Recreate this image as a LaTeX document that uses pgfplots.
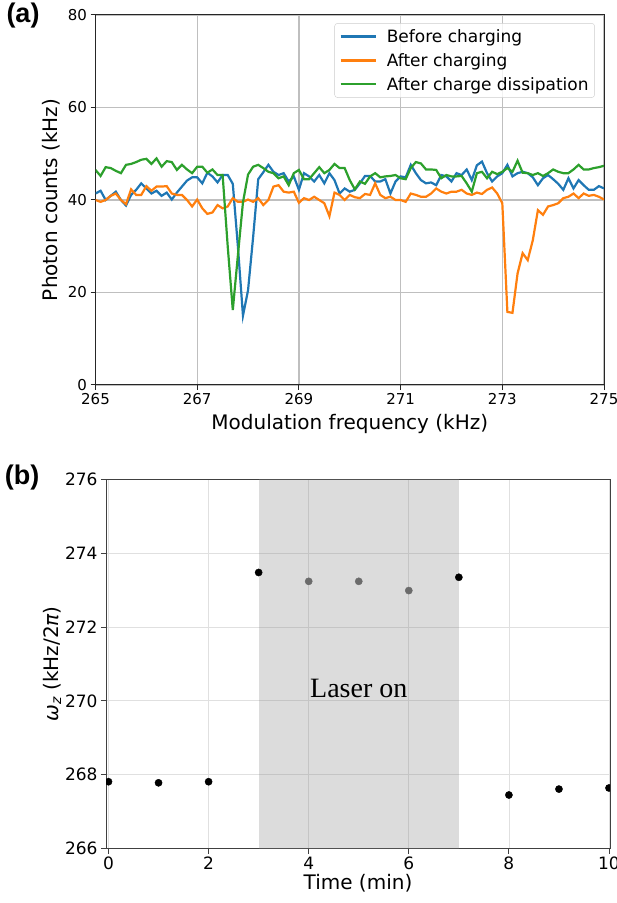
\documentclass[border=0pt]{standalone}
\usepackage{pgfplots}
\usepackage{pgfplotstable}
\pgfplotsset{compat=1.18}
\usepackage{fontspec}
\setmainfont{DejaVu Sans}
\newfontfamily\panelfont{Liberation Sans}
\newfontfamily\seriffont{Liberation Serif}

\definecolor{mplblue}{HTML}{1F77B4}
\definecolor{mplorange}{HTML}{FF7F0E}
\definecolor{mplgreen}{HTML}{2CA02C}

% Photon counts (kHz) versus modulation frequency (kHz)
\pgfplotstableread{
f v
265.0 41.4
265.1 42.0
265.2 40.0
265.3 40.9
265.4 41.8
265.5 40.0
265.6 38.8
265.7 41.1
265.8 42.2
265.9 43.6
266.0 42.5
266.1 41.4
266.2 42.0
266.3 40.9
266.4 41.6
266.5 40.1
266.6 41.6
266.7 42.9
266.8 44.2
266.9 44.9
267.0 44.9
267.1 43.6
267.2 45.9
267.3 45.1
267.4 43.8
267.5 45.4
267.6 45.4
267.7 43.5
267.8 30.0
267.9 15.0
268.0 20.5
268.1 32.0
268.2 44.5
268.3 46.0
268.4 47.6
268.5 46.1
268.6 45.4
268.7 45.8
268.8 44.0
268.9 45.1
269.0 42.2
269.1 45.8
269.2 45.1
269.3 44.0
269.4 45.4
269.5 43.6
269.6 45.8
269.7 44.3
269.8 41.4
269.9 42.5
270.0 41.8
270.1 42.2
270.2 43.6
270.3 45.2
270.4 45.2
270.5 44.0
270.6 44.0
270.7 44.5
270.8 41.4
270.9 44.0
271.0 45.1
271.1 44.9
271.2 47.6
271.3 45.8
271.4 44.3
271.5 43.6
271.6 43.8
271.7 43.2
271.8 45.4
271.9 45.1
272.0 44.0
272.1 45.8
272.2 45.4
272.3 46.6
272.4 44.3
272.5 47.5
272.6 48.3
272.7 45.8
272.8 44.0
272.9 45.1
273.0 45.8
273.1 47.6
273.2 45.1
273.3 45.8
273.4 46.1
273.5 45.8
273.6 44.9
273.7 43.2
273.8 44.7
273.9 45.4
274.0 44.5
274.1 43.5
274.2 42.2
274.3 44.7
274.4 42.5
274.5 44.3
274.6 43.2
274.7 42.2
274.8 42.2
274.9 43.0
275.0 42.5
}\beforecharging

\pgfplotstableread{
f v
265.0 40.0
265.1 39.6
265.2 40.0
265.3 40.9
265.4 41.4
265.5 40.0
265.6 39.1
265.7 42.3
265.8 41.1
265.9 41.1
266.0 43.0
266.1 42.0
266.2 42.9
266.3 42.9
266.4 43.0
266.5 41.4
266.6 41.1
266.7 41.1
266.8 40.0
266.9 38.6
267.0 40.1
267.1 38.2
267.2 37.0
267.3 37.3
267.4 38.9
267.5 38.2
267.6 38.6
267.7 40.4
267.8 39.6
267.9 39.6
268.0 40.1
268.1 39.6
268.2 40.4
268.3 38.9
268.4 40.0
268.5 42.9
268.6 43.2
268.7 41.8
268.8 41.6
268.9 41.8
269.0 39.4
269.1 40.4
269.2 40.0
269.3 40.7
269.4 40.0
269.5 39.3
269.6 36.5
269.7 41.6
269.8 41.1
269.9 40.0
270.0 41.1
270.1 40.6
270.2 40.4
270.3 41.3
270.4 41.1
270.5 43.6
270.6 41.1
270.7 40.4
270.8 40.7
270.9 40.0
271.0 40.0
271.1 39.6
271.2 41.4
271.3 41.1
271.4 40.7
271.5 40.7
271.6 41.4
271.7 42.5
271.8 41.8
271.9 41.4
272.0 41.8
272.1 41.8
272.2 42.2
272.3 41.4
272.4 41.1
272.5 41.6
272.6 41.3
272.7 42.2
272.8 42.7
272.9 41.4
273.0 39.3
273.1 15.8
273.2 15.6
273.3 24.1
273.4 28.5
273.5 27.0
273.6 31.3
273.7 37.8
273.8 36.8
273.9 38.6
274.0 38.9
274.1 39.3
274.2 40.4
274.3 40.7
274.4 41.4
274.5 40.4
274.6 41.4
274.7 40.9
274.8 41.1
274.9 40.7
275.0 40.1
}\aftercharging

\pgfplotstableread{
f v
265.0 46.5
265.1 45.2
265.2 47.1
265.3 46.9
265.4 46.3
265.5 45.8
265.6 47.6
265.7 47.8
265.8 48.2
265.9 48.7
266.0 48.9
266.1 47.8
266.2 49.0
266.3 47.2
266.4 48.4
266.5 48.2
266.6 46.5
266.7 47.6
266.8 46.6
266.9 45.8
267.0 47.2
267.1 47.2
267.2 45.9
267.3 46.6
267.4 45.4
267.5 45.4
267.6 30.0
267.7 16.2
267.8 28.0
267.9 39.5
268.0 45.5
268.1 47.2
268.2 47.6
268.3 46.9
268.4 46.1
268.5 45.8
268.6 44.7
268.7 45.1
268.8 43.2
268.9 45.8
269.0 46.5
269.1 44.5
269.2 44.5
269.3 45.8
269.4 47.1
269.5 45.8
269.6 46.5
269.7 47.8
269.8 46.9
269.9 46.9
270.0 44.3
270.1 42.3
270.2 44.0
270.3 43.5
270.4 45.1
270.5 45.8
270.6 44.9
270.7 45.1
270.8 45.2
270.9 45.4
271.0 44.7
271.1 44.5
271.2 46.9
271.3 48.2
271.4 47.9
271.5 46.6
271.6 46.6
271.7 46.5
271.8 44.7
271.9 45.4
272.0 45.1
272.1 45.1
272.2 45.2
272.3 43.6
272.4 41.8
272.5 45.8
272.6 46.1
272.7 44.7
272.8 46.1
272.9 45.6
273.0 46.1
273.1 46.9
273.2 46.1
273.3 48.5
273.4 45.9
273.5 45.8
273.6 45.4
273.7 45.8
273.8 45.2
273.9 45.8
274.0 46.6
274.1 46.1
274.2 45.8
274.3 45.8
274.4 46.6
274.5 47.6
274.6 46.6
274.7 46.6
274.8 46.9
274.9 47.1
275.0 47.4
}\afterdissipation

% Trap frequency omega_z (kHz/2pi) versus time (min)
\pgfplotstableread{
t w
0 267.81
1 267.78
2 267.81
3 273.48
7 273.35
8 267.45
9 267.61
10 267.64
}\freqoff

\pgfplotstableread{
t w
4 273.24
5 273.24
6 272.99
}\freqon

\begin{document}
\begin{tikzpicture}

% ---------- (a) photon counts ----------
\begin{axis}[
  at={(95.5pt,518pt)}, anchor=south west,
  scale only axis, width=508.5pt, height=370pt,
  xmin=265, xmax=275, ymin=0, ymax=80,
  xtick={265,267,...,275}, ytick={0,20,...,80},
  tick pos=left, tick align=outside, major tick length=5pt,
  tick style={black!85, line width=1pt},
  axis line style={black!85, line width=1pt},
  grid=major, major grid style={black!25, line width=1.2pt},
  /pgf/number format/assume math mode=true,
  tick label style={font=\fontsize{15}{18}\selectfont},
  label style={font=\fontsize{20}{24}\selectfont},
  xlabel={Modulation frequency (kHz)},
  ylabel={Photon counts (kHz)},
  xlabel style={at={(rel axis cs:0.5,0)}, anchor=center, yshift=-39pt},
  ylabel style={at={(rel axis cs:0,0.5)}, anchor=center, yshift=44.5pt},
  legend cell align=left,
  legend image code/.code={%
    \path (-1pt,0pt) (43pt,0pt);
    \draw[#1, line width=2.2pt] (0pt,0pt) -- (35pt,0pt);},
  legend style={at={(0.982,0.978)}, anchor=north east,
    font=\fontsize{17}{20}\selectfont, draw=black!20, rounded corners=3pt,
    fill=white, fill opacity=0.8, text opacity=1,
    inner xsep=4pt, inner ysep=4pt, row sep=5.5pt},
]
\addplot[mplblue, line width=2.2pt] table[x=f, y=v] {\beforecharging};
\addlegendentry{Before charging}
\addplot[mplorange, line width=2.2pt] table[x=f, y=v] {\aftercharging};
\addlegendentry{After charging}
\addplot[mplgreen, line width=2.2pt] table[x=f, y=v] {\afterdissipation};
\addlegendentry{After charge dissipation}
\end{axis}

% ---------- (b) trap frequency ----------
\begin{axis}[
  at={(106pt,54.5pt)}, anchor=south west,
  scale only axis, width=504pt, height=369pt,
  xmin=-0.05, xmax=10.02, ymin=266, ymax=276,
  xtick={0,2,...,10}, ytick={266,268,...,276},
  tick pos=left, tick align=outside, major tick length=5pt,
  tick style={black!75, line width=1pt},
  axis line style={black!75, line width=1pt},
  grid=major, major grid style={black!12, line width=0.8pt},
  /pgf/number format/assume math mode=true,
  tick label style={font=\fontsize{17}{20}\selectfont},
  label style={font=\fontsize{20}{24}\selectfont},
  xlabel={Time (min)},
  ylabel={{\itshape ω\textsubscript{z}} (kHz/2{\itshape π})},
  xlabel style={at={(rel axis cs:0.5,0)}, anchor=center, yshift=-35pt},
  ylabel style={at={(rel axis cs:0,0.5)}, anchor=center, yshift=54pt},
  clip marker paths=true,
]
% laser-on interval
\addplot[draw=none, fill=gray, fill opacity=0.28]
  coordinates {(3,266) (3,276) (7,276) (7,266)} -- cycle;
\addplot[only marks, mark=*, mark size=3.6pt, mark options={draw=black, fill=black}]
  table[x=t, y=w] {\freqoff};
\addplot[only marks, mark=*, mark size=3.6pt, mark options={draw=black!58, fill=black!58}]
  table[x=t, y=w] {\freqon};
\node[font=\seriffont\fontsize{28}{28}\selectfont] at (axis cs:5,270.35) {Laser on};
\end{axis}

% panel letters
\node[font=\panelfont\bfseries\fontsize{27}{27}\selectfont] at (23pt,887pt) {(a)};
\node[font=\panelfont\bfseries\fontsize{27}{27}\selectfont] at (22pt,425pt) {(b)};

\pgfresetboundingbox
\useasboundingbox (0pt,0pt) rectangle (617pt,903pt);
\end{tikzpicture}
\end{document}
